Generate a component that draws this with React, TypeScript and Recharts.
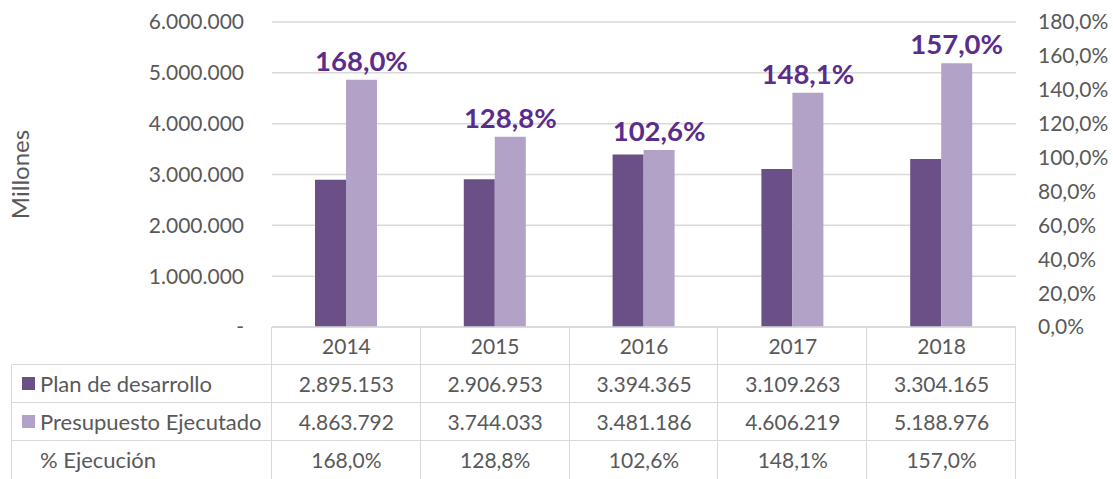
import React from 'react';
import { ComposedChart, Bar, Line, XAxis, YAxis, CartesianGrid, LabelList } from 'recharts';

const years = ['2014', '2015', '2016', '2017', '2018'];
const planDesarrollo = [2895153, 2906953, 3394365, 3109263, 3304165];
const presupuestoEjecutado = [4863792, 3744033, 3481186, 4606219, 5188976];
const ejecucion = [168.0, 128.8, 102.6, 148.1, 157.0];
const leftTicks = [0, 1000000, 2000000, 3000000, 4000000, 5000000, 6000000];
const rightTicks = [0, 20, 40, 60, 80, 100, 120, 140, 160, 180];

const seriesNames = ['Plan de desarrollo', 'Presupuesto Ejecutado', '% Ejecución'];

const DARK = '#6A5086';
const LIGHT = '#B2A2C8';
const LABEL = '#5A2D8A';
const TEXT = '#595959';
const GRID = '#D9D9D9';
const FONT = 'Lato, "Open Sans", sans-serif';

const fmtNum = (n: number) => (n === 0 ? '-' : Math.round(n).toString().replace(/\B(?=(\d{3})+(?!\d))/g, '.'));
const fmtPct = (v: number) => v.toFixed(1).replace('.', ',') + '%';

const data = years.map((y, i) => ({
  year: y,
  plan: planDesarrollo[i],
  pres: presupuestoEjecutado[i],
  pct: ejecucion[i],
}));

const W = 1113;
const H = 479;
const PLOT_LEFT = 272;
const PLOT_RIGHT = 1016;
const PLOT_TOP = 22;
const PLOT_BOTTOM = 327;
const ROW_H = 38;
const TABLE_LEFT = 12;

export default function App() {
  const colW = (PLOT_RIGHT - PLOT_LEFT) / years.length;
  const rows = [
    { name: seriesNames[0], color: DARK, values: planDesarrollo.map(fmtNum) },
    { name: seriesNames[1], color: LIGHT, values: presupuestoEjecutado.map(fmtNum) },
    { name: seriesNames[2], color: null as string | null, values: ejecucion.map(fmtPct) },
  ];
  const firstRowTop = PLOT_BOTTOM + ROW_H;

  return (
    <div style={{ position: 'absolute', left: 0, top: 0, width: W, height: H, background: '#fff', fontFamily: FONT, overflow: 'hidden' }}>
      <ComposedChart
        width={W}
        height={H}
        data={data}
        margin={{ top: PLOT_TOP, right: 0, bottom: H - PLOT_BOTTOM - ROW_H, left: 0 }}
        barGap={0}
      >
        <CartesianGrid yAxisId="left" vertical={false} stroke={GRID} strokeWidth={1.5} />
        <XAxis
          dataKey="year"
          height={ROW_H}
          axisLine={{ stroke: GRID, strokeWidth: 1.5 }}
          tickLine={false}
          tickSize={0}
          tickMargin={12}
          tick={{ fill: TEXT, fontSize: 21, fontFamily: FONT }}
        />
        <YAxis
          yAxisId="left"
          width={PLOT_LEFT}
          domain={[0, 6000000]}
          ticks={leftTicks}
          axisLine={false}
          tickLine={false}
          tickSize={0}
          tickMargin={28}
          tickFormatter={fmtNum}
          tick={{ fill: TEXT, fontSize: 21, fontFamily: FONT }}
          label={{
            content: (props: any) => {
              const vb = props.viewBox || { x: 0, y: PLOT_TOP, width: PLOT_LEFT, height: PLOT_BOTTOM - PLOT_TOP };
              const cx = vb.x + 19;
              const cy = vb.y + vb.height / 2;
              return (
                <text x={cx} y={cy} transform={`rotate(-90 ${cx} ${cy})`} textAnchor="middle" dominantBaseline="central" fill={TEXT} fontSize={24} fontFamily={FONT}>
                  Millones
                </text>
              );
            },
          }}
        />
        <YAxis
          yAxisId="right"
          orientation="right"
          width={W - PLOT_RIGHT}
          domain={[0, 180]}
          ticks={rightTicks}
          axisLine={false}
          tickLine={false}
          tickSize={0}
          tickMargin={22}
          tickFormatter={fmtPct}
          tick={{ fill: TEXT, fontSize: 21, fontFamily: FONT }}
        />
        <Bar yAxisId="left" dataKey="plan" name={seriesNames[0]} fill={DARK} barSize={31} isAnimationActive={false} />
        <Bar yAxisId="left" dataKey="pres" name={seriesNames[1]} fill={LIGHT} barSize={31} isAnimationActive={false}>
          <LabelList
            dataKey="pct"
            position="top"
            offset={9}
            formatter={(v: any) => fmtPct(Number(v))}
            style={{ fill: LABEL, fontSize: 27.5, fontWeight: 700, fontFamily: FONT }}
          />
        </Bar>
        <Line yAxisId="right" dataKey="pct" name={seriesNames[2]} stroke="none" dot={false} activeDot={false} legendType="none" isAnimationActive={false} />
      </ComposedChart>

      {/* data table */}
      {[0, 1, 2].map((r) => (
        <div key={'h' + r} style={{ position: 'absolute', left: TABLE_LEFT, top: firstRowTop + r * ROW_H - 1, width: PLOT_RIGHT - TABLE_LEFT, height: 0, borderTop: `1.5px solid ${GRID}` }} />
      ))}
      <div style={{ position: 'absolute', left: TABLE_LEFT - 1, top: firstRowTop, width: 0, height: H - firstRowTop, borderLeft: `1.5px solid ${GRID}` }} />
      {Array.from({ length: years.length + 1 }).map((_, i) => (
        <div key={'v' + i} style={{ position: 'absolute', left: PLOT_LEFT + i * colW - 1, top: PLOT_BOTTOM, width: 0, height: H - PLOT_BOTTOM, borderLeft: `1.5px solid ${GRID}` }} />
      ))}
      {rows.map((row, r) => (
        <React.Fragment key={'r' + r}>
          <div style={{ position: 'absolute', left: TABLE_LEFT, top: firstRowTop + r * ROW_H - 1, width: PLOT_LEFT - TABLE_LEFT, height: ROW_H, display: 'flex', alignItems: 'center', color: TEXT, fontSize: 22, whiteSpace: 'nowrap' }}>
            <span style={{ display: 'inline-block', width: 13, height: 13, marginLeft: 10, marginRight: 5, background: row.color || 'transparent' }} />
            <span>{row.name}</span>
          </div>
          {row.values.map((v, i) => (
            <div key={i} style={{ position: 'absolute', left: PLOT_LEFT + i * colW, top: firstRowTop + r * ROW_H - 1, width: colW, height: ROW_H, display: 'flex', alignItems: 'center', justifyContent: 'center', color: TEXT, fontSize: 21 }}>
              {v}
            </div>
          ))}
        </React.Fragment>
      ))}
    </div>
  );
}
